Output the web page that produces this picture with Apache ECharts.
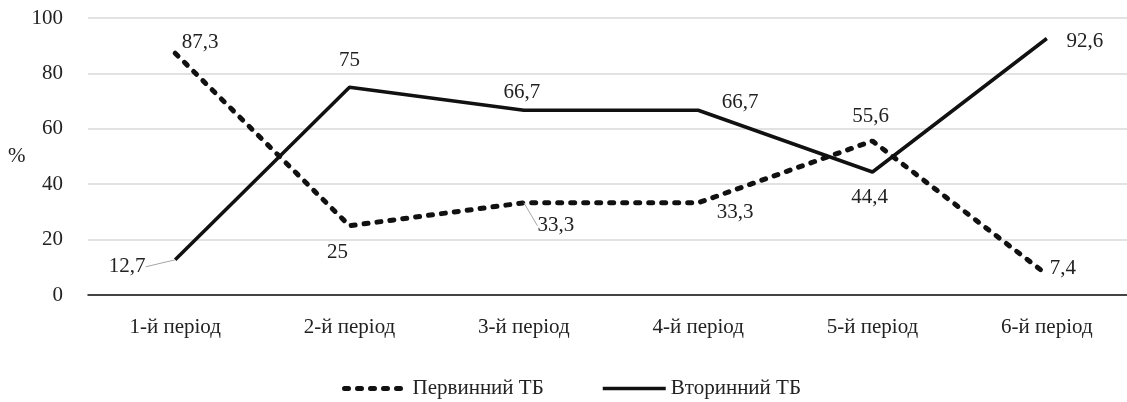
<!DOCTYPE html>
<html>
<head>
<meta charset="utf-8">
<script src="https://cdn.jsdelivr.net/npm/echarts@6/dist/echarts.min.js"></script>
<style>
  html, body { margin: 0; padding: 0; background: #fff; }
  #chart { width: 1127px; height: 402px; }
</style>
</head>
<body>
<div id="chart"></div>
<script>
const categories = ['1-й період', '2-й період', '3-й період', '4-й період', '5-й період', '6-й період'];
const primaryTB = [87.3, 25, 33.3, 33.3, 55.6, 7.4];
const secondaryTB = [12.7, 75, 66.7, 66.7, 44.4, 92.6];
const seriesNames = ['Первинний ТБ', 'Вторинний ТБ'];
const yTicks = [0, 20, 40, 60, 80, 100];

const FONT = '"Liberation Serif", "DejaVu Serif", serif';
const TEXT = '#222';
const fmt = v => String(v).replace('.', ',');

const dashedLine = { color: '#111', width: 5, type: [4, 9], cap: 'round' };
const solidLine = { color: '#111', width: 3.5 };

// where each value label sits relative to its point (dx, dy), per series
const labelShift = [
  [[25, -11], [-12, 27], [32, 23], [37, 10], [-2, -25], [16, -6]],
  [[-48, 7], [0, -27], [-2, -18], [42, -8], [-3, 25], [38, 3]]
];
// labels that get a thin guide line back to their point
const guided = [[2], [0]];

function seriesData(values, s) {
  return values.map((v, i) => ({
    value: v,
    labelLine: { show: guided[s].includes(i) }
  }));
}

function makeSeries(s, values, lineStyle, z) {
  return {
    name: seriesNames[s],
    type: 'line',
    data: seriesData(values, s),
    symbol: 'circle',
    symbolSize: 0.1,
    showSymbol: true,
    lineStyle: lineStyle,
    itemStyle: { color: '#111' },
    label: {
      show: true,
      position: 'inside',
      formatter: p => fmt(p.value),
      fontFamily: FONT, fontSize: 21, color: TEXT
    },
    labelLine: { show: false, lineStyle: { color: '#a6a6a6', width: 1 } },
    labelLayout: p => ({ dx: labelShift[s][p.dataIndex][0], dy: labelShift[s][p.dataIndex][1] }),
    emphasis: { disabled: true },
    z: z
  };
}

function makeLegend(s, left, lineStyle) {
  return {
    top: 373,
    left: left,
    itemWidth: 63,
    itemHeight: 12,
    textStyle: { fontFamily: FONT, fontSize: 21, color: TEXT },
    itemStyle: { opacity: 0 },
    data: [{ name: seriesNames[s], lineStyle: lineStyle }]
  };
}

const chart = echarts.init(document.getElementById('chart'));

chart.setOption({
  animation: false,
  textStyle: { fontFamily: FONT },
  grid: { left: 88, width: 1046, top: 18, bottom: 107, outerBoundsMode: 'none' },
  legend: [
    makeLegend(0, 337, dashedLine),
    makeLegend(1, 596, solidLine)
  ],
  xAxis: {
    type: 'category',
    data: categories,
    boundaryGap: true,
    axisLine: { lineStyle: { color: '#111', width: 1.5 } },
    axisTick: { show: false },
    axisLabel: { fontFamily: FONT, fontSize: 21, color: TEXT, margin: 22 }
  },
  yAxis: {
    type: 'value',
    min: yTicks[0],
    max: yTicks[yTicks.length - 1],
    interval: 20,
    name: '%',
    nameLocation: 'middle',
    nameRotate: 0,
    nameGap: 62,
    nameTextStyle: { fontFamily: FONT, fontSize: 21, color: TEXT },
    axisLine: { show: false },
    axisTick: { show: false },
    axisLabel: { fontFamily: FONT, fontSize: 21, color: TEXT, margin: 25 },
    splitLine: { lineStyle: { color: '#d9d9d9', width: 1.5 } }
  },
  series: [
    makeSeries(0, primaryTB, dashedLine, 3),
    makeSeries(1, secondaryTB, solidLine, 2)
  ]
});
</script>
</body>
</html>
